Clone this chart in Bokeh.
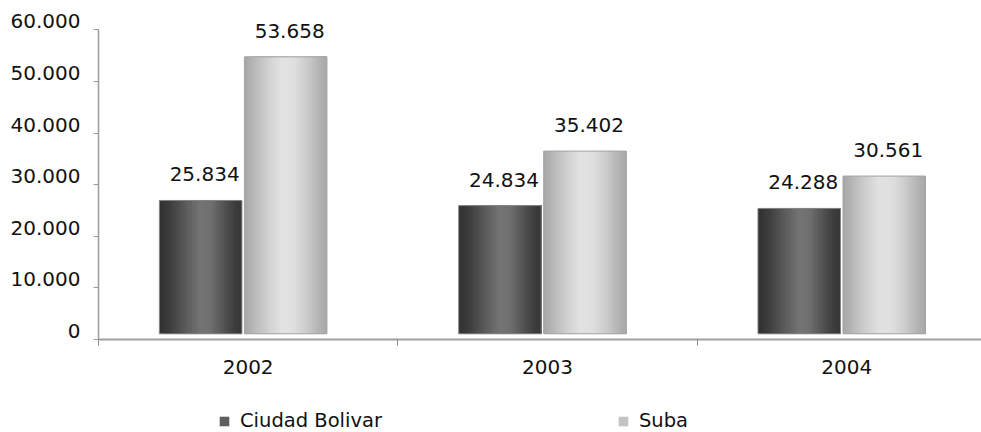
import numpy as np
from bokeh.plotting import figure
from bokeh.layouts import column
from bokeh.models import (ColumnDataSource, Range1d, LinearAxis, FixedTicker,
                          Legend, LegendItem, CustomLabelingPolicy)
from bokeh.core.properties import value
from bokeh.embed import file_html
from bokeh.resources import INLINE

# ---- data -------------------------------------------------------------
years = ["2002", "2003", "2004"]
ciudad_bolivar = [25834, 24834, 24288]
suba = [53658, 35402, 30561]
y_ticks = [0, 10000, 20000, 30000, 40000, 50000, 60000]
series_names = ["Ciudad Bolivar", "Suba"]


def fmt(v):
    return f"{v:,}".replace(",", ".")


# ---- layout constants ---------------------------------------------------
FONT = "DejaVu Sans"
W = 981
H_CHART, H_KEY = 400, 32
LEFT, TOP, BOTTOM = 98, 8, 61
PX_PER_CAT = 299.3
PX_PER_UNIT_Y = 309.7 / 60000.0
frame_w = W - LEFT
frame_h = H_CHART - TOP - BOTTOM
x_end = frame_w / PX_PER_CAT
y_end = frame_h / PX_PER_UNIT_Y

# the bar walls sit slightly up and to the left of the axes (3-D depth look)
dx = 5.0 / PX_PER_CAT
dy = 5.7 / PX_PER_UNIT_Y
# tick labels of the value axis ride a little higher than their ticks
dy_lab = 8.5 / PX_PER_UNIT_Y

BAR_W = 0.2757
GAP = 0.0084
N_STRIPS = 28

# cylinder-like shading stops (position, grey level)
DARK_STOPS = [(0.0, 0x30), (0.12, 0x3c), (0.3, 0x58), (0.5, 0x74),
              (0.62, 0x70), (0.8, 0x50), (0.92, 0x3c), (1.0, 0x36)]
LIGHT_STOPS = [(0.0, 0xa6), (0.12, 0xb8), (0.3, 0xd2), (0.45, 0xe2),
               (0.6, 0xdf), (0.78, 0xc8), (0.9, 0xb4), (1.0, 0xa8)]


def shade(stops, t):
    pos = [s[0] for s in stops]
    lvl = [s[1] for s in stops]
    g = int(round(np.interp(t, pos, lvl)))
    return f"#{g:02x}{g:02x}{g:02x}"


def strip_source(values, side, stops):
    # each strip runs from its own left edge to the bar's right edge, so the
    # next strip simply paints over it and no seams show
    lefts, rights, tops, cols = [], [], [], []
    for i, v in enumerate(values):
        center = i + 0.5 + side * (BAR_W + GAP) / 2.0
        left, right = center - BAR_W / 2.0, center + BAR_W / 2.0
        for k in range(N_STRIPS):
            lefts.append(left + k / N_STRIPS * BAR_W)
            rights.append(right)
            tops.append(v)
            cols.append(shade(stops, (k + 0.5) / N_STRIPS))
    return ColumnDataSource(dict(left=lefts, right=rights, top=tops, color=cols))


p = figure(width=W, height=H_CHART,
           x_range=Range1d(0, x_end), y_range=Range1d(0, y_end),
           output_backend="svg", toolbar_location=None,
           x_axis_location=None, y_axis_location=None,
           min_border_left=LEFT, min_border_right=0,
           min_border_top=TOP, min_border_bottom=BOTTOM)
p.extra_x_ranges = {"depth": Range1d(dx, x_end + dx)}
p.extra_y_ranges = {"depth": Range1d(-dy, y_end - dy),
                    "labels": Range1d(-dy_lab, y_end - dy_lab)}
p.outline_line_color = None
p.xgrid.visible = False
p.ygrid.visible = False

# ---- bars -------------------------------------------------------------
src_cb = strip_source(ciudad_bolivar, -1, DARK_STOPS)
src_su = strip_source(suba, +1, LIGHT_STOPS)
p.quad(left="left", right="right", top="top", bottom=0, source=src_cb,
       fill_color="color", line_color=None,
       x_range_name="depth", y_range_name="depth")
p.quad(left="left", right="right", top="top", bottom=0, source=src_su,
       fill_color="color", line_color=None,
       x_range_name="depth", y_range_name="depth")

cb_centers = [i + 0.5 - (BAR_W + GAP) / 2.0 for i in range(len(years))]
su_centers = [i + 0.5 + (BAR_W + GAP) / 2.0 for i in range(len(years))]
p.vbar(x=cb_centers, top=ciudad_bolivar, bottom=0, width=BAR_W,
       fill_color=None, line_color="#858585", line_width=1,
       x_range_name="depth", y_range_name="depth")
p.vbar(x=su_centers, top=suba, bottom=0, width=BAR_W,
       fill_color=None, line_color="#a3a3a3", line_width=1,
       x_range_name="depth", y_range_name="depth")

# value labels above the bars
p.text(x=cb_centers + su_centers, y=ciudad_bolivar + suba,
       text=[fmt(v) for v in ciudad_bolivar + suba],
       x_offset=4, y_offset=-26, text_align="center", text_baseline="middle",
       text_font=value(FONT), text_font_size="20px", text_color="#111111",
       x_range_name="depth", y_range_name="depth")

# ---- axes ---------------------------------------------------------------
no_labels = CustomLabelingPolicy(code="""
    for (const i of Array.from(indices)) { indices.unset(i) }
    return indices
""")
y_tick_axis = LinearAxis(ticker=FixedTicker(ticks=y_ticks), bounds=(0, 60000),
                         major_tick_out=5, major_tick_in=0,
                         minor_tick_out=0, minor_tick_in=0,
                         major_label_policy=no_labels,
                         major_label_text_font_size="0px",
                         major_label_standoff=0,
                         axis_line_color="#9a9a9a", axis_line_width=1.5,
                         major_tick_line_color="#9a9a9a")
y_label_axis = LinearAxis(y_range_name="labels",
                          ticker=FixedTicker(ticks=y_ticks),
                          axis_line_color=None, major_tick_line_color=None,
                          minor_tick_line_color=None,
                          major_tick_out=0, major_tick_in=0,
                          major_label_standoff=13,
                          major_label_overrides={t: fmt(t) for t in y_ticks},
                          major_label_text_font=FONT,
                          major_label_text_font_size="20px",
                          major_label_text_color="#111111")
p.add_layout(y_tick_axis, "left")
p.add_layout(y_label_axis, "left")

cat_centers = [i + 0.5 for i in range(len(years))]
x_axis = LinearAxis(ticker=FixedTicker(ticks=cat_centers,
                                       minor_ticks=list(range(len(years) + 1))),
                    major_tick_out=0, major_tick_in=0,
                    minor_tick_out=6, minor_tick_in=0,
                    minor_tick_line_color="#8a8a8a",
                    axis_line_color="#a0a0a0", axis_line_width=2,
                    major_label_overrides={c: y for c, y in zip(cat_centers, years)},
                    major_label_standoff=14,
                    major_label_text_font=FONT,
                    major_label_text_font_size="20px",
                    major_label_text_color="#111111")
p.add_layout(x_axis, "below")

# ---- key strip under the chart -----------------------------------------
key = figure(width=W, height=H_KEY, x_range=Range1d(0, 1), y_range=Range1d(0, 1),
             output_backend="svg", toolbar_location=None,
             x_axis_location=None, y_axis_location=None,
             min_border=0)
key.outline_line_color = None
key.xgrid.visible = False
key.ygrid.visible = False
# swatch-only renderers: a single undrawn (NaN) row so the key has a colour
nan_row = dict(left=[np.nan], right=[np.nan], top=[np.nan], bottom=[np.nan])
k_cb = key.quad(left="left", right="right", top="top", bottom="bottom",
                source=ColumnDataSource(nan_row),
                fill_color=shade(DARK_STOPS, 0.35), line_color=None)
k_su = key.quad(left="left", right="right", top="top", bottom="bottom",
                source=ColumnDataSource(nan_row),
                fill_color=shade(LIGHT_STOPS, 0.2), line_color=None)
legend = Legend(items=[
    LegendItem(label=series_names[0], renderers=[k_cb], index=0),
    LegendItem(label=series_names[1], renderers=[k_su], index=0),
], orientation="horizontal", location=(218 - LEFT, 0),
    glyph_width=12, glyph_height=12, label_standoff=10, spacing=235,
    padding=0, margin=0, border_line_color=None, background_fill_alpha=0,
    label_text_font=FONT, label_text_font_size="19.5px",
    label_text_color="#111111")
key.add_layout(legend)

layout = column(p, key, spacing=0)
open("out.html", "w").write(file_html(layout, INLINE))
